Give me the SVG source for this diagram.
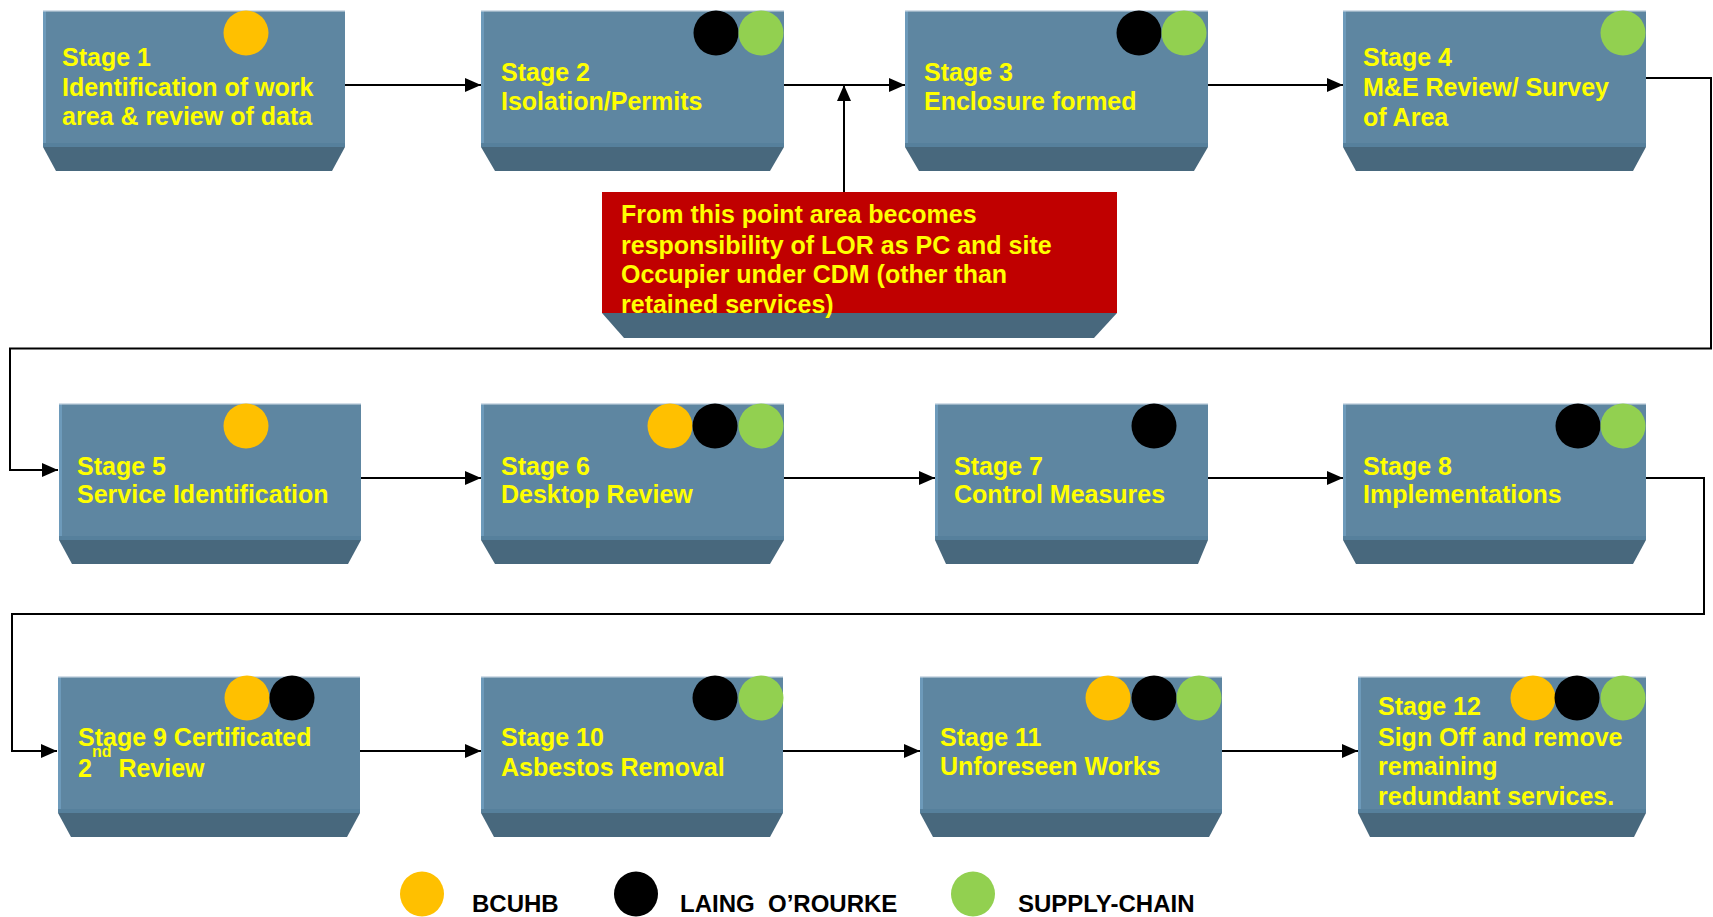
<svg xmlns="http://www.w3.org/2000/svg" width="1713" height="917" viewBox="0 0 1713 917">
<defs>
<marker id="ah" markerUnits="userSpaceOnUse" markerWidth="16" markerHeight="14" refX="16" refY="7" orient="auto">
<path d="M0,0 L16,7 L0,14 z" fill="#000"/>
</marker>
<style>
.body{fill:#5E86A1}
.edge{fill:#6D9ABA}
.topl{fill:#D3DEE8}
.band{fill:#56809C}
.trap{fill:#48687D}
.red{fill:#C00000}
.t{font-family:"Liberation Sans",Arial,sans-serif;font-weight:bold;font-size:25px;fill:#FFFF00}
.lg{font-family:"Liberation Sans",Arial,sans-serif;font-weight:bold;font-size:24px;fill:#000;white-space:pre}
.y{fill:#FFC000}
.k{fill:#000}
.g{fill:#92D050}
.c{fill:none;stroke:#000;stroke-width:2}
</style>
</defs>
<rect width="1713" height="917" fill="#fff"/>

<g id="connectors">
<path class="c" d="M345,85 H481" marker-end="url(#ah)"/>
<path class="c" d="M784,85 H905" marker-end="url(#ah)"/>
<path class="c" d="M844,192 V85" marker-end="url(#ah)"/>
<path class="c" d="M1208,85 H1343" marker-end="url(#ah)"/>
<path class="c" d="M1646,78 H1711 V348.5 H10 V470 H58" marker-end="url(#ah)"/>
<path class="c" d="M361,478 H481" marker-end="url(#ah)"/>
<path class="c" d="M784,478 H935" marker-end="url(#ah)"/>
<path class="c" d="M1208,478 H1343" marker-end="url(#ah)"/>
<path class="c" d="M1646,478 H1704 V614 H12 V751 H57" marker-end="url(#ah)"/>
<path class="c" d="M360,751 H481" marker-end="url(#ah)"/>
<path class="c" d="M783,751 H920" marker-end="url(#ah)"/>
<path class="c" d="M1222,751 H1358" marker-end="url(#ah)"/>
</g>

<g id="stage1">
<rect class="body" x="43" y="10" width="302" height="137"/>
<rect class="edge" x="43" y="10" width="3" height="137"/>
<rect class="topl" x="43" y="10" width="302" height="1.5"/>
<rect class="band" x="43" y="143" width="302" height="4"/>
<polygon class="trap" points="43,147 345,147 332,171 56,171"/>
<circle class="y" cx="246" cy="33" r="22.5"/>
<text class="t" x="62" y="66">Stage 1</text>
<text class="t" x="62" y="96">Identification of work</text>
<text class="t" x="62" y="125">area &amp; review of data</text>
</g>

<g id="stage2">
<rect class="body" x="481" y="10" width="303" height="137"/>
<rect class="edge" x="481" y="10" width="3" height="137"/>
<rect class="topl" x="481" y="10" width="303" height="1.5"/>
<rect class="band" x="481" y="143" width="303" height="4"/>
<polygon class="trap" points="481,147 784,147 770,171 495,171"/>
<circle class="k" cx="716" cy="33" r="22.5"/>
<circle class="g" cx="761" cy="33" r="22.5"/>
<text class="t" x="501" y="81">Stage 2</text>
<text class="t" x="501" y="110">Isolation/Permits</text>
</g>

<g id="stage3">
<rect class="body" x="905" y="10" width="303" height="137"/>
<rect class="edge" x="905" y="10" width="3" height="137"/>
<rect class="topl" x="905" y="10" width="303" height="1.5"/>
<rect class="band" x="905" y="143" width="303" height="4"/>
<polygon class="trap" points="905,147 1208,147 1194,171 919,171"/>
<circle class="k" cx="1139" cy="33" r="22.5"/>
<circle class="g" cx="1184" cy="33" r="22.5"/>
<text class="t" x="924" y="81">Stage 3</text>
<text class="t" x="924" y="110">Enclosure formed</text>
</g>

<g id="stage4">
<rect class="body" x="1343" y="10" width="303" height="137"/>
<rect class="edge" x="1343" y="10" width="3" height="137"/>
<rect class="topl" x="1343" y="10" width="303" height="1.5"/>
<rect class="band" x="1343" y="143" width="303" height="4"/>
<polygon class="trap" points="1343,147 1646,147 1633,171 1356,171"/>
<circle class="g" cx="1623" cy="33" r="22.5"/>
<text class="t" x="1363" y="66">Stage 4</text>
<text class="t" x="1363" y="96">M&amp;E Review/ Survey</text>
<text class="t" x="1363" y="126">of Area</text>
</g>

<g id="note">
<rect class="red" x="602" y="192" width="515" height="121"/>
<polygon class="trap" points="602,313 1117,313 1094,338 624,338"/>
<text class="t" x="621" y="223">From this point area becomes</text>
<text class="t" x="621" y="254">responsibility of LOR as PC and site</text>
<text class="t" x="621" y="283">Occupier under CDM (other than</text>
<text class="t" x="621" y="313">retained services)</text>
</g>

<g id="stage5">
<rect class="body" x="59" y="403" width="302" height="137"/>
<rect class="edge" x="59" y="403" width="3" height="137"/>
<rect class="topl" x="59" y="403" width="302" height="1.5"/>
<rect class="band" x="59" y="536" width="302" height="4"/>
<polygon class="trap" points="59,540 361,540 348,564 72,564"/>
<circle class="y" cx="246" cy="426" r="22.5"/>
<text class="t" x="77" y="475">Stage 5</text>
<text class="t" x="77" y="503">Service Identification</text>
</g>

<g id="stage6">
<rect class="body" x="481" y="403" width="303" height="137"/>
<rect class="edge" x="481" y="403" width="3" height="137"/>
<rect class="topl" x="481" y="403" width="303" height="1.5"/>
<rect class="band" x="481" y="536" width="303" height="4"/>
<polygon class="trap" points="481,540 784,540 770,564 495,564"/>
<circle class="y" cx="670" cy="426" r="22.5"/>
<circle class="k" cx="715" cy="426" r="22.5"/>
<circle class="g" cx="761" cy="426" r="22.5"/>
<text class="t" x="501" y="475">Stage 6</text>
<text class="t" x="501" y="503">Desktop Review</text>
</g>

<g id="stage7">
<rect class="body" x="935" y="403" width="273" height="137"/>
<rect class="edge" x="935" y="403" width="3" height="137"/>
<rect class="topl" x="935" y="403" width="273" height="1.5"/>
<rect class="band" x="935" y="536" width="273" height="4"/>
<polygon class="trap" points="935,540 1208,540 1198,564 946,564"/>
<circle class="k" cx="1154" cy="426" r="22.5"/>
<text class="t" x="954" y="475">Stage 7</text>
<text class="t" x="954" y="503">Control Measures</text>
</g>

<g id="stage8">
<rect class="body" x="1343" y="403" width="303" height="137"/>
<rect class="edge" x="1343" y="403" width="3" height="137"/>
<rect class="topl" x="1343" y="403" width="303" height="1.5"/>
<rect class="band" x="1343" y="536" width="303" height="4"/>
<polygon class="trap" points="1343,540 1646,540 1633,564 1356,564"/>
<circle class="k" cx="1578" cy="426" r="22.5"/>
<circle class="g" cx="1623" cy="426" r="22.5"/>
<text class="t" x="1363" y="475">Stage 8</text>
<text class="t" x="1363" y="503">Implementations</text>
</g>

<g id="stage9">
<rect class="body" x="58" y="676" width="302" height="137"/>
<rect class="edge" x="58" y="676" width="3" height="137"/>
<rect class="topl" x="58" y="676" width="302" height="1.5"/>
<rect class="band" x="58" y="809" width="302" height="4"/>
<polygon class="trap" points="58,813 360,813 347,837 71,837"/>
<circle class="y" cx="247" cy="698" r="22.5"/>
<circle class="k" cx="292" cy="698" r="22.5"/>
<text class="t" x="78" y="746">Stage 9 Certificated</text>
<text class="t" x="78" y="777">2<tspan font-size="16" dy="-20">nd</tspan><tspan dy="20"> Review</tspan></text>
</g>

<g id="stage10">
<rect class="body" x="481" y="676" width="302" height="137"/>
<rect class="edge" x="481" y="676" width="3" height="137"/>
<rect class="topl" x="481" y="676" width="302" height="1.5"/>
<rect class="band" x="481" y="809" width="302" height="4"/>
<polygon class="trap" points="481,813 783,813 770,837 494,837"/>
<circle class="k" cx="715" cy="698" r="22.5"/>
<circle class="g" cx="761" cy="698" r="22.5"/>
<text class="t" x="501" y="746">Stage 10</text>
<text class="t" x="501" y="776">Asbestos Removal</text>
</g>

<g id="stage11">
<rect class="body" x="920" y="676" width="302" height="137"/>
<rect class="edge" x="920" y="676" width="3" height="137"/>
<rect class="topl" x="920" y="676" width="302" height="1.5"/>
<rect class="band" x="920" y="809" width="302" height="4"/>
<polygon class="trap" points="920,813 1222,813 1209,837 933,837"/>
<circle class="y" cx="1108" cy="698" r="22.5"/>
<circle class="k" cx="1154" cy="698" r="22.5"/>
<circle class="g" cx="1199" cy="698" r="22.5"/>
<text class="t" x="940" y="746">Stage 11</text>
<text class="t" x="940" y="775">Unforeseen Works</text>
</g>

<g id="stage12">
<rect class="body" x="1358" y="676" width="288" height="137"/>
<rect class="edge" x="1358" y="676" width="3" height="137"/>
<rect class="topl" x="1358" y="676" width="288" height="1.5"/>
<rect class="band" x="1358" y="809" width="288" height="4"/>
<polygon class="trap" points="1358,813 1646,813 1634,837 1370,837"/>
<circle class="y" cx="1533" cy="698" r="22.5"/>
<circle class="k" cx="1577" cy="698" r="22.5"/>
<circle class="g" cx="1623" cy="698" r="22.5"/>
<text class="t" x="1378" y="715">Stage 12</text>
<text class="t" x="1378" y="746">Sign Off and remove</text>
<text class="t" x="1378" y="775">remaining</text>
<text class="t" x="1378" y="805">redundant services.</text>
</g>

<g id="legend">
<ellipse class="y" cx="422" cy="894" rx="22" ry="22.5"/>
<text class="lg" x="472" y="912">BCUHB</text>
<ellipse class="k" cx="636" cy="894" rx="22" ry="22.5"/>
<text class="lg" x="680" y="912">LAING  O’ROURKE</text>
<ellipse class="g" cx="973" cy="894" rx="22" ry="22.5"/>
<text class="lg" x="1018" y="912">SUPPLY-CHAIN</text>
</g>
</svg>
